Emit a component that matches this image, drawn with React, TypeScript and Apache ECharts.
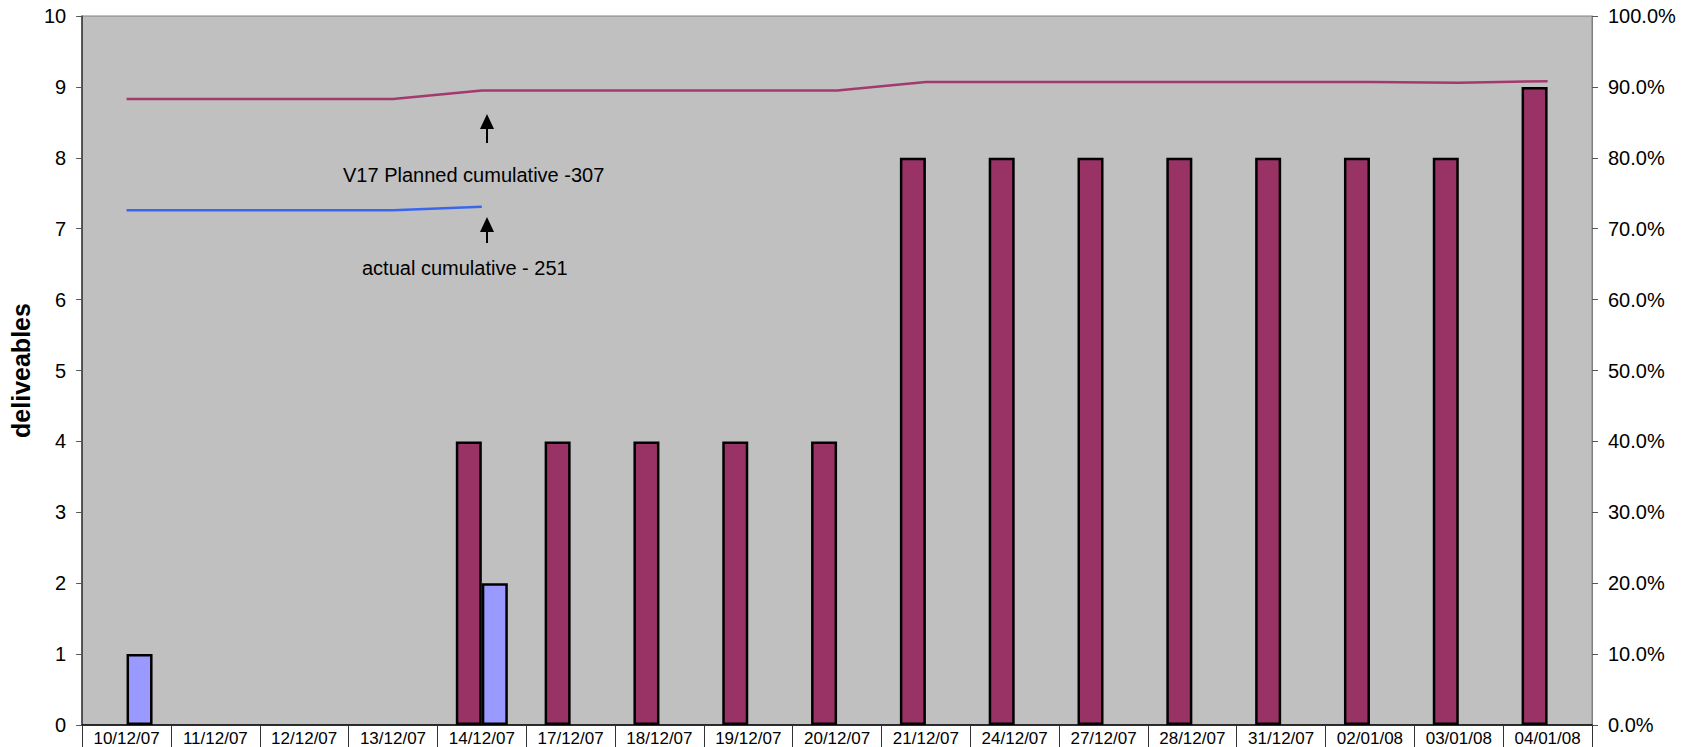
import React, { useEffect, useRef } from "react";
import * as echarts from "echarts";

const categories = [
  "10/12/07", "11/12/07", "12/12/07", "13/12/07", "14/12/07", "17/12/07",
  "18/12/07", "19/12/07", "20/12/07", "21/12/07", "24/12/07", "27/12/07",
  "28/12/07", "31/12/07", "02/01/08", "03/01/08", "04/01/08",
];
const plannedDeliverables = [null, null, null, null, 4, 4, 4, 4, 4, 8, 8, 8, 8, 8, 8, 8, 9];
const actualDeliverables = [1, null, null, null, 2, null, null, null, null, null, null, null, null, null, null, null, null];
const plannedCumulativePct = [88.3, 88.3, 88.3, 88.3, 89.5, 89.5, 89.5, 89.5, 89.5, 90.7, 90.7, 90.7, 90.7, 90.7, 90.7, 90.6, 90.8];
const actualCumulativePct = [72.6, 72.6, 72.6, 72.6, 73.1, null, null, null, null, null, null, null, null, null, null, null, null];
const leftTicks = { min: 0, max: 10, interval: 1 };
const rightTicks = { min: 0, max: 100, interval: 10 };

const FONT = "'Liberation Sans', Arial, sans-serif";

function arrow(x: number, tipY: number, bottomY: number) {
  return [
    {
      type: "line",
      shape: { x1: x, y1: tipY + 12, x2: x, y2: bottomY },
      style: { stroke: "#000", lineWidth: 2 },
    },
    {
      type: "polygon",
      shape: { points: [[x, tipY], [x - 7, tipY + 15], [x + 7, tipY + 15]] },
      style: { fill: "#000" },
    },
  ];
}

export default function App() {
  const ref = useRef<HTMLDivElement>(null);
  useEffect(() => {
    if (!ref.current) return;
    const chart = echarts.init(ref.current, null, { renderer: "svg" });
    chart.setOption({
      animation: false,
      backgroundColor: "#ffffff",
      textStyle: { fontFamily: FONT },
      grid: {
        left: 81,
        right: 105,
        top: 16,
        bottom: 16,
        show: true,
        backgroundColor: "#C0C0C0",
        borderColor: "#808080",
        borderWidth: 1,
        containLabel: false,
      },
      xAxis: {
        type: "category",
        data: categories,
        boundaryGap: true,
        axisLine: { show: true, lineStyle: { color: "#000", width: 1.5 } },
        axisTick: { show: true, length: 24, lineStyle: { color: "#333", width: 1 } },
        axisLabel: { fontSize: 17, color: "#000", margin: 5, fontFamily: FONT, interval: 0 },
        splitLine: { show: false },
      },
      yAxis: [
        {
          type: "value",
          ...leftTicks,
          position: "left",
          name: "deliveables",
          nameLocation: "middle",
          nameGap: 42,
          nameTextStyle: { fontSize: 25, fontWeight: "bold", color: "#000", fontFamily: FONT },
          axisLine: { show: true, lineStyle: { color: "#333", width: 1.5 } },
          axisTick: { show: true, length: 6, lineStyle: { color: "#555" } },
          axisLabel: { fontSize: 20, color: "#000", margin: 16, fontFamily: FONT },
          splitLine: { show: false },
        },
        {
          type: "value",
          ...rightTicks,
          position: "right",
          axisLine: { show: true, lineStyle: { color: "#808080", width: 1 } },
          axisTick: { show: true, length: 6, lineStyle: { color: "#555" } },
          axisLabel: {
            fontSize: 20,
            color: "#000",
            margin: 16,
            fontFamily: FONT,
            formatter: (v: number) => v.toFixed(1) + "%",
          },
          splitLine: { show: false },
        },
      ],
      series: [
        {
          name: "planned",
          type: "bar",
          data: plannedDeliverables,
          barWidth: 26,
          barGap: "0%",
          itemStyle: { color: "#993366", borderColor: "#000", borderWidth: 2.5 },
        },
        {
          name: "actual",
          type: "bar",
          data: actualDeliverables,
          barWidth: 26,
          barGap: "0%",
          itemStyle: { color: "#9999FF", borderColor: "#000", borderWidth: 2.5 },
        },
        {
          name: "V17 Planned cumulative",
          type: "line",
          yAxisIndex: 1,
          data: plannedCumulativePct,
          showSymbol: false,
          symbol: "none",
          lineStyle: { color: "#A33A6E", width: 2.5 },
          connectNulls: false,
        },
        {
          name: "actual cumulative",
          type: "line",
          yAxisIndex: 1,
          data: actualCumulativePct,
          showSymbol: false,
          symbol: "none",
          lineStyle: { color: "#3A66EE", width: 2.5 },
          connectNulls: false,
        },
      ],
      graphic: [
        ...arrow(487, 114, 143),
        ...arrow(487, 217, 243),
        {
          type: "text",
          x: 343,
          y: 175,
          style: {
            text: "V17 Planned cumulative -307",
            font: `20px ${FONT}`,
            fill: "#000",
            verticalAlign: "middle",
          },
        },
        {
          type: "text",
          x: 362,
          y: 268,
          style: {
            text: "actual cumulative - 251",
            font: `20px ${FONT}`,
            fill: "#000",
            verticalAlign: "middle",
          },
        },
      ],
    });
    return () => chart.dispose();
  }, []);
  return (
    <div
      ref={ref}
      style={{ position: "fixed", left: 0, top: 0, width: 1697, height: 747, background: "#fff" }}
    />
  );
}
